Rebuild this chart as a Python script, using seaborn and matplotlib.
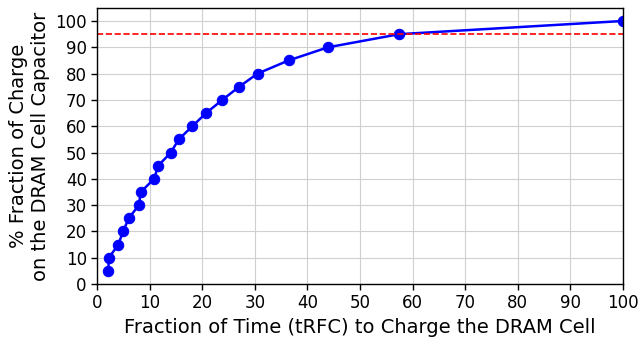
import numpy as np
import pandas as pd
import matplotlib
matplotlib.use("Agg")
import matplotlib.pyplot as plt
import seaborn as sns

# fraction of tRFC (x) vs fraction of charge (y)
time_frac = [2.1, 2.2, 4.0, 4.9, 6.0, 7.9, 8.3, 10.8, 11.6, 14.0, 15.5, 18.1,
             20.7, 23.8, 27.0, 30.5, 36.4, 43.9, 57.5, 100.0]
charge_frac = [5, 10, 15, 20, 25, 30, 35, 40, 45, 50, 55, 60,
               65, 70, 75, 80, 85, 90, 95, 100]
threshold = 95

sns.set_style("whitegrid", {"grid.color": "#d0d0d0", "axes.edgecolor": "black",
                            "text.color": "black", "axes.labelcolor": "black",
                            "xtick.color": "black", "ytick.color": "black"})
plt.rcParams["font.family"] = ["DejaVu Sans"]

df = pd.DataFrame({"time": time_frac, "charge": charge_frac})

fig, ax = plt.subplots(figsize=(6.4, 3.41), dpi=100)
sns.lineplot(data=df, x="time", y="charge", ax=ax, color="blue", marker="o",
             markersize=7.5, markeredgecolor="blue", linewidth=1.8)
ax.axhline(threshold, color="red", linestyle="--", linewidth=1.2)

ax.set_xlim(0, 100)
ax.set_ylim(0, 105)
ax.set_xticks(np.arange(0, 101, 10))
ax.set_yticks(np.arange(0, 101, 10))
ax.tick_params(axis="both", labelsize=12, length=4, width=1, color="black", bottom=True, left=True)
ax.set_xlabel("Fraction of Time (tRFC) to Charge the DRAM Cell", fontsize=14)
ax.set_ylabel("% Fraction of Charge\non the DRAM Cell Capacitor", fontsize=14)
for s in ax.spines.values():
    s.set_color("black")
    s.set_linewidth(1)

fig.subplots_adjust(left=0.152, right=0.973, top=0.977, bottom=0.167)
fig.savefig("out.png", dpi=100)
